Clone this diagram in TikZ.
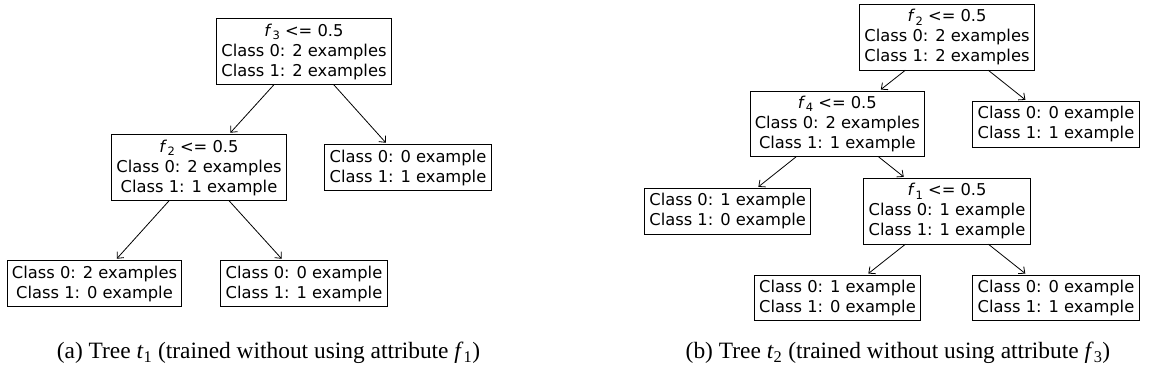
\documentclass[tikz,border=0pt]{standalone}
\usepackage{fontspec}
\setmainfont{Liberation Serif}
\newfontfamily\dvfont{DejaVu Sans}
\usetikzlibrary{arrows.meta}
\newcommand{\featf}[1]{\textit{f}\kern0.3pt\raisebox{-3.2pt}{\fontsize{11.5}{11.5}\selectfont #1}}
\tikzset{
  tbox/.style={draw=black, line width=0.9pt, fill=white, align=center,
    inner xsep=4.8pt, inner ysep=5pt, outer sep=0pt,
    font=\dvfont\fontsize{16.3}{20}\selectfont},
  tarrow/.style={draw=black, line width=0.8pt,
    -{Straight Barb[length=5pt,width=9pt,line width=0.8pt]}, shorten >=2.5pt},
  capt/.style={font=\fontsize{23.4}{28}\selectfont, inner sep=0pt}
}
\begin{document}
\begin{tikzpicture}[x=1pt,y=-1pt]
\useasboundingbox (0,0) rectangle (1154,389);
% Tree (a)
\node[tbox] (r1) at (304,51.5) {\featf{3} <= 0.5\\Class 0: 2 examples\\Class 1: 2 examples};
\node[tbox] (a1) at (199,167.5) {\featf{2} <= 0.5\\Class 0: 2 examples\\Class 1: 1 example};
\node[tbox] (a2) at (408,167.5) {Class 0: 0 example\\Class 1: 1 example};
\node[tbox] (a3) at (94.5,283.5) {Class 0: 2 examples\\Class 1: 0 example};
\node[tbox] (a4) at (304,283.5) {Class 0: 0 example\\Class 1: 1 example};
\draw[tarrow] (r1) -- (a1);
\draw[tarrow] (r1) -- (a2);
\draw[tarrow] (a1) -- (a3);
\draw[tarrow] (a1) -- (a4);
% Tree (b)
\node[tbox] (r2) at (947,37.3) {\featf{2} <= 0.5\\Class 0: 2 examples\\Class 1: 2 examples};
\node[tbox] (b1) at (837.3,124) {\featf{4} <= 0.5\\Class 0: 2 examples\\Class 1: 1 example};
\node[tbox] (b2) at (1056,124.3) {Class 0: 0 example\\Class 1: 1 example};
\node[tbox] (b3) at (727.7,211.3) {Class 0: 1 example\\Class 1: 0 example};
\node[tbox] (b4) at (947,211.3) {\featf{1} <= 0.5\\Class 0: 1 example\\Class 1: 1 example};
\node[tbox] (b5) at (837.5,298) {Class 0: 1 example\\Class 1: 0 example};
\node[tbox] (b6) at (1056,298) {Class 0: 0 example\\Class 1: 1 example};
\draw[tarrow] (r2) -- (b1);
\draw[tarrow] (r2) -- (b2);
\draw[tarrow] (b1) -- (b3);
\draw[tarrow] (b1) -- (b4);
\draw[tarrow] (b4) -- (b5);
\draw[tarrow] (b4) -- (b6);
% Captions
\node[capt] (ca) at (268.5,353) {(a) Tree \textit{t}\textsubscript{1} (trained without using attribute \textit{f}\textsubscript{1})};
\node[capt] (cb) at (898,353) {(b) Tree \textit{t}\textsubscript{2} (trained without using attribute \textit{f}\textsubscript{3})};
\end{tikzpicture}
\end{document}
